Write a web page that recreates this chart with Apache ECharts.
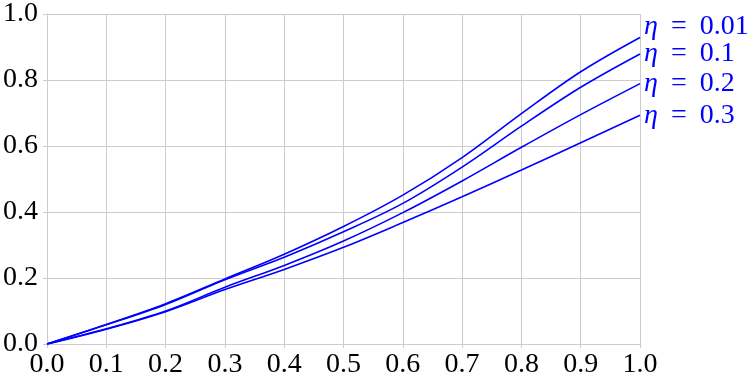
<!DOCTYPE html>
<html>
<head>
<meta charset="utf-8">
<script src="https://cdn.jsdelivr.net/npm/echarts@6/dist/echarts.min.js"></script>
<style>html,body{margin:0;padding:0;background:#fff}#c{width:747px;height:379px}</style>
</head>
<body>
<div id="c"></div>
<script>
const xValues = [0, 0.1, 0.2, 0.3, 0.4, 0.5, 0.6, 0.7, 0.8, 0.9, 1.0];
const eta001 = [0, 0.059, 0.122, 0.197, 0.272, 0.356, 0.451, 0.565, 0.698, 0.825, 0.929];
const eta01  = [0, 0.058, 0.120, 0.195, 0.263, 0.340, 0.426, 0.536, 0.660, 0.778, 0.879];
const eta02  = [0, 0.046, 0.100, 0.172, 0.238, 0.312, 0.398, 0.494, 0.596, 0.695, 0.789];
const eta03  = [0, 0.045, 0.098, 0.165, 0.226, 0.293, 0.368, 0.446, 0.527, 0.610, 0.693];
const seriesNames = ['0.01', '0.1', '0.2', '0.3'];
const seriesData = [eta001, eta01, eta02, eta03];
const labelOffsets = [[0, -11], [0, 0], [0, 0], [0, 0]];

const FONT = 'Liberation Serif';
const FS = 28;
const gray = '#cccccc';

const chart = echarts.init(document.getElementById('c'), null, {renderer: 'canvas'});
chart.setOption({
  animation: false,
  grid: {left: 46.5, right: 107, top: 10, bottom: 32.3, containLabel: false},
  xAxis: {
    type: 'value', min: 0, max: 1, interval: 0.1,
    axisLine: {show: true, lineStyle: {color: gray, width: 1}},
    axisTick: {show: true, length: 4, lineStyle: {color: gray}},
    splitLine: {show: true, lineStyle: {color: gray, width: 1}},
    axisLabel: {color: '#000', fontFamily: FONT, fontSize: FS, margin: 7,
      formatter: v => v.toFixed(1)}
  },
  yAxis: {
    type: 'value', min: 0, max: 1, interval: 0.2,
    axisLine: {show: true, lineStyle: {color: gray, width: 1}},
    axisTick: {show: true, length: 4, lineStyle: {color: gray}},
    splitLine: {show: true, lineStyle: {color: gray, width: 1}},
    axisLabel: {color: '#000', fontFamily: FONT, fontSize: FS, margin: 9,
      formatter: v => v.toFixed(1)}
  },
  series: seriesData.map((d, i) => ({
    type: 'line',
    name: seriesNames[i],
    data: xValues.map((x, j) => [x, d[j]]),
    smooth: 0.35,
    symbol: 'none',
    lineStyle: {color: '#0000ff', width: 1.6},
    endLabel: {
      show: true,
      offset: labelOffsets[i],
      distance: 4,
      formatter: () => '{e|η}{q|=}' + seriesNames[i],
      color: '#0000ff', fontFamily: FONT, fontSize: FS,
      rich: {
        e: {fontStyle: 'italic', fontFamily: FONT, fontSize: FS, color: '#0000ff'},
        q: {fontFamily: FONT, fontSize: FS, color: '#0000ff', padding: [0, 13, 0, 13]}
      }
    }
  }))
});
</script>
</body>
</html>
